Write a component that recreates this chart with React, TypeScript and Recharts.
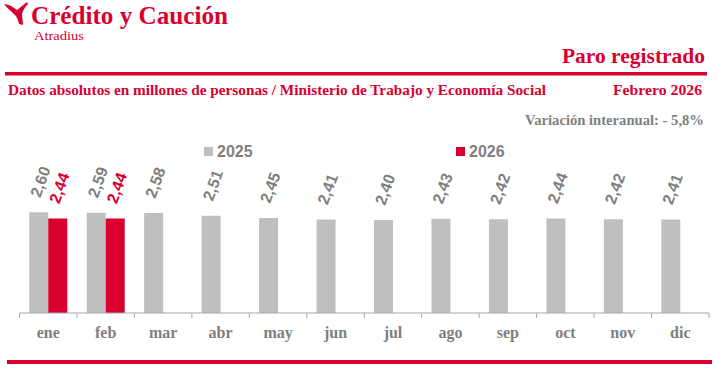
import { BarChart, Bar, XAxis, YAxis, LabelList } from 'recharts';

const months = ['ene', 'feb', 'mar', 'abr', 'may', 'jun', 'jul', 'ago', 'sep', 'oct', 'nov', 'dic'];
const paro2025 = [2.6, 2.59, 2.58, 2.51, 2.45, 2.41, 2.4, 2.43, 2.42, 2.44, 2.42, 2.41];
const paro2026 = [2.44, 2.44, null, null, null, null, null, null, null, null, null, null];
const seriesNames = ['2025', '2026'];

const RED = '#D9002F';
const GREY = '#BFBFBF';
const TEXT_GREY = '#7F7F7F';
const SERIF = '"Liberation Serif", "Times New Roman", serif';
const SANS = '"Liberation Sans", Arial, sans-serif';

const W = 717;
const H = 372;
const margin = { top: 158, right: 8, bottom: 29, left: 19.5 };
const band = (W - margin.left - margin.right) / months.length;

const data = months.map((m, i) => ({ mes: m, y2025: paro2025[i], y2026: paro2026[i] }));

const fmt = (v: number) => v.toFixed(2).replace('.', ',');

function makeLabel(color: string) {
  return (props: any) => {
    const { x, y, width, value } = props;
    if (value == null) return null;
    const ax = Number(x) + Number(width) / 2 + 1.5;
    const ay = Number(y) - 14;
    return (
      <text
        x={ax}
        y={ay}
        transform={`rotate(-70, ${ax}, ${ay})`}
        fill={color}
        fontFamily={SANS}
        fontWeight={700}
        fontSize={16}
      >
        {fmt(value)}
      </text>
    );
  };
}

function MonthTick(props: any) {
  const { x, y, payload, index } = props;
  const last = index === months.length - 1;
  return (
    <g>
      <line x1={x - band / 2} x2={x - band / 2} y1={y} y2={y + 5} stroke="#A6A6A6" />
      {last && <line x1={x + band / 2} x2={x + band / 2} y1={y} y2={y + 5} stroke="#A6A6A6" />}
      <text
        x={x}
        y={y + 25}
        textAnchor="middle"
        fill={TEXT_GREY}
        fontFamily={SERIF}
        fontWeight={700}
        fontSize={16}
      >
        {payload.value}
      </text>
    </g>
  );
}

export default function App() {
  return (
    <div style={{ position: 'absolute', left: 0, top: 0, width: W, height: H, background: '#fff' }}>
      <BarChart width={W} height={H} data={data} margin={margin} barCategoryGap="17%" barGap={0}>
        <XAxis
          dataKey="mes"
          tickLine={false}
          tickSize={0}
          tickMargin={0}
          height={30}
          axisLine={{ stroke: '#A6A6A6' }}
          tick={<MonthTick />}
          interval={0}
        />
        <YAxis hide domain={[0, 4]} />
        <Bar dataKey="y2025" fill={GREY} isAnimationActive={false}>
          <LabelList dataKey="y2025" content={makeLabel(TEXT_GREY)} />
        </Bar>
        <Bar dataKey="y2026" fill={RED} isAnimationActive={false}>
          <LabelList dataKey="y2026" content={makeLabel(RED)} />
        </Bar>
      </BarChart>

      <svg
        width={W}
        height={H}
        style={{ position: 'absolute', left: 0, top: 0, pointerEvents: 'none' }}
      >
        {/* logo mark */}
        <path
          d="M4,4 C8,4 12,6 17,10 L27,2 L28,4 C25,7 23,10 22,14 C22,18 23,21 23,25 L19,24 C18,20 17,17 15,15 C12,12 8,9 4,4 Z"
          fill={RED}
        />
        <text x={31} y={23.5} fill={RED} fontFamily={SERIF} fontWeight={700} fontSize={25}
          textLength={197} lengthAdjust="spacingAndGlyphs">
          Crédito y Caución
        </text>
        <text x={34} y={40} fill={RED} fontFamily={SERIF} fontSize={13}
          textLength={50} lengthAdjust="spacingAndGlyphs">
          Atradius
        </text>
        <text x={562} y={63} fill={RED} fontFamily={SERIF} fontWeight={700} fontSize={20}
          textLength={143} lengthAdjust="spacingAndGlyphs">
          Paro registrado
        </text>
        <rect x={5} y={72} width={702} height={3.5} fill={RED} />
        <text x={8} y={94.5} fill={RED} fontFamily={SERIF} fontWeight={700} fontSize={14}
          textLength={538} lengthAdjust="spacingAndGlyphs">
          Datos absolutos en millones de personas / Ministerio de Trabajo y Economía Social
        </text>
        <text x={613} y={94.5} fill={RED} fontFamily={SERIF} fontWeight={700} fontSize={14}
          textLength={89} lengthAdjust="spacingAndGlyphs">
          Febrero 2026
        </text>
        <text x={525} y={125} fill={TEXT_GREY} fontFamily={SERIF} fontWeight={700} fontSize={14}
          textLength={179} lengthAdjust="spacingAndGlyphs">
          Variación interanual: - 5,8%
        </text>

        <rect x={204} y={147} width={9} height={9} fill={GREY} />
        <text x={217} y={157} fill={TEXT_GREY} fontFamily={SANS} fontWeight={700} fontSize={16}>
          {seriesNames[0]}
        </text>
        <rect x={456} y={147} width={9} height={9} fill={RED} />
        <text x={469} y={157} fill={TEXT_GREY} fontFamily={SANS} fontWeight={700} fontSize={16}>
          {seriesNames[1]}
        </text>

        <rect x={7} y={360} width={705} height={4} fill={RED} />
      </svg>
    </div>
  );
}
